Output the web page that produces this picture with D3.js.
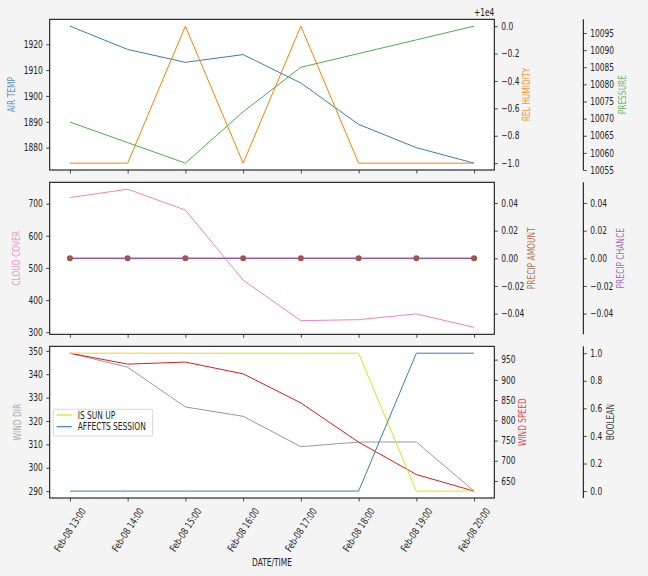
<!DOCTYPE html>
<html>
<head>
<meta charset="utf-8">
<script src="https://cdn.jsdelivr.net/npm/d3@7"></script>
<style>
html,body{margin:0;padding:0;background:#f4f4f4;}
svg{display:block;}
text{font-family:"DejaVu Sans",sans-serif;}
</style>
</head>
<body>
<script>
// ---- data ----
const times = ["2023-02-08T13:00","2023-02-08T14:00","2023-02-08T15:00","2023-02-08T16:00",
               "2023-02-08T17:00","2023-02-08T18:00","2023-02-08T19:00","2023-02-08T20:00"];
const airTemp        = [1927, 1918, 1913, 1916, 1905, 1889, 1880, 1874];
const relHumidity    = [9999, 9999, 10000, 9999, 10000, 9999, 9999, 9999];
const pressure       = [10069, 10063, 10057, 10072, 10085, 10089, 10093, 10097];
const cloudCover     = [719, 745, 680, 462, 336, 339, 357, 315];
const precipAmount   = [0, 0, 0, 0, 0, 0, 0, 0];
const precipChance   = [0, 0, 0, 0, 0, 0, 0, 0];
const windDir        = [349, 343, 326, 322, 309, 311, 311, 290];
const windSpeed      = [966, 939, 944, 915, 843, 746, 666, 625];
const isSunUp        = [1, 1, 1, 1, 1, 1, 0, 0];
const affectsSession = [0, 0, 0, 0, 0, 0, 1, 1];

const airTempTicks   = [1880, 1890, 1900, 1910, 1920];
const relHumTicks    = [9999, 9999.2, 9999.4, 9999.6, 9999.8, 10000];
const pressureTicks  = [10055, 10060, 10065, 10070, 10075, 10080, 10085, 10090, 10095];
const cloudTicks     = [300, 400, 500, 600, 700];
const precipTicks    = [-0.04, -0.02, 0, 0.02, 0.04];
const windDirTicks   = [290, 300, 310, 320, 330, 340, 350];
const windSpdTicks   = [650, 700, 750, 800, 850, 900, 950];
const boolTicks      = [0, 0.2, 0.4, 0.6, 0.8, 1.0];

// ---- layout ----
const W = 648, H = 576;
const L = 49.7, R = 494.3, X3 = 583.3;
const panels = [[19.3, 170], [182.3, 334.3], [346.3, 498]];
const SX = 0.75, FS = 10;
const C = {blue:"#377eb8", orange:"#ff7f00", green:"#4daf4a", pink:"#f781bf", brown:"#a65628",
           purple:"#984ea3", gray:"#999999", red:"#e41a1c", yellow:"#e3dc1c"};

const svg = d3.select("body").append("svg").attr("width", W).attr("height", H);
svg.append("rect").attr("width", W).attr("height", H).attr("fill", "#f4f4f4");

const parse = d3.timeParse("%Y-%m-%dT%H:%M");
const dates = times.map(parse);
const t0 = dates[0], t1 = dates[dates.length - 1];
const pad = (t1 - t0) * 0.05;
const x = d3.scaleTime().domain([new Date(+t0 - pad), new Date(+t1 + pad)]).range([L, R]);

function dom(vals) {
  let mn = d3.min(vals), mx = d3.max(vals);
  if (mn === mx) { mn -= 0.05; mx += 0.05; }
  const p = (mx - mn) * 0.05;
  return [mn - p, mx + p];
}

function fixText(g) {
  g.selectAll(".tick text").each(function () {
    const t = d3.select(this);
    const xx = +t.attr("x") || 0;
    t.attr("x", 0).attr("transform", `translate(${xx},0) scale(${SX},1)`)
     .attr("font-size", FS).attr("font-family", "DejaVu Sans").attr("fill", "#222");
  });
  g.selectAll(".tick line").attr("stroke", "#222").attr("stroke-width", 0.8);
}

function label(xp, yp, str, color) {
  svg.append("text")
    .attr("transform", `translate(${xp},${yp}) rotate(-90) scale(${SX},1)`)
    .attr("text-anchor", "middle").attr("font-size", FS)
    .attr("fill", color).attr("fill-opacity", 0.85).text(str);
}

function drawLine(y, vals, color, w) {
  svg.append("path").datum(vals)
    .attr("fill", "none").attr("stroke", color).attr("stroke-width", w || 1)
    .attr("d", d3.line().x((d, i) => x(dates[i])).y(d => y(d)));
}

function setupPanel(pi, s) {
  const [top, bot] = panels[pi];
  svg.append("rect").attr("x", L).attr("y", top).attr("width", R - L).attr("height", bot - top)
    .attr("fill", "#fff");
  const y1 = d3.scaleLinear().domain(s.d1).range([bot, top]);
  const y2 = d3.scaleLinear().domain(s.d2).range([bot, top]);
  const y3 = d3.scaleLinear().domain(s.d3).range([bot, top]);
  return {y1, y2, y3, top, bot};
}

function finishPanel(p, s, showX) {
  const {y1, y2, y3, top, bot} = p;
  svg.append("rect").attr("x", L).attr("y", top).attr("width", R - L).attr("height", bot - top)
    .attr("fill", "none").attr("stroke", "#000").attr("stroke-width", 1);
  const gl = svg.append("g").attr("transform", `translate(${L},0)`)
    .call(d3.axisLeft(y1).tickValues(s.t1).tickFormat(s.f1).tickSizeOuter(0).tickSize(3.5).tickPadding(3.5));
  gl.select(".domain").remove(); fixText(gl);
  const gr = svg.append("g").attr("transform", `translate(${R},0)`)
    .call(d3.axisRight(y2).tickValues(s.t2).tickFormat(s.f2).tickSizeOuter(0).tickSize(3.5).tickPadding(3.5));
  gr.select(".domain").remove(); fixText(gr);
  const g3 = svg.append("g").attr("transform", `translate(${X3},0)`)
    .call(d3.axisRight(y3).tickValues(s.t3).tickFormat(s.f3).tickSizeOuter(0).tickSize(3.5).tickPadding(3.5));
  g3.select(".domain").remove(); fixText(g3);
  svg.append("line").attr("x1", X3).attr("x2", X3).attr("y1", top).attr("y2", bot)
    .attr("stroke", "#000").attr("stroke-width", 1);
  const gb = svg.append("g").attr("transform", `translate(0,${bot})`)
    .call(d3.axisBottom(x).tickValues(dates).tickSize(3.5).tickSizeOuter(0)
      .tickFormat(showX ? d3.timeFormat("%b-%d %H:%M") : ""));
  gb.select(".domain").remove();
  gb.selectAll(".tick line").attr("stroke", "#222").attr("stroke-width", 0.8);
  if (showX) {
    gb.selectAll(".tick text").attr("x", 0).attr("y", 0).attr("dy", 0)
      .attr("text-anchor", "end").attr("font-size", FS).attr("fill", "#222")
      .attr("font-family", "DejaVu Sans")
      .attr("transform", `translate(16,13) rotate(-57) scale(${SX},1)`);
  }
  const cy = (top + bot) / 2;
  label(s.lx1, cy, s.l1, s.c1);
  label(s.lx2, cy, s.l2, s.c2);
  label(s.lx3, cy, s.l3, s.c3);
}

// ---- panel 1 ----
const s1 = {d1: dom(airTemp), d2: dom(relHumidity), d3: dom(pressure),
  t1: airTempTicks, t2: relHumTicks, t3: pressureTicks,
  f1: d3.format("d"), f2: d => d3.format(".1f")(Math.round((d - 10000) * 10) / 10), f3: d3.format("d"),
  l1: "AIR TEMP", l2: "REL HUMIDITY", l3: "PRESSURE", c1: C.blue, c2: C.orange, c3: C.green,
  lx1: 15.3, lx2: 530.3, lx3: 626.3};
const p1 = setupPanel(0, s1);
drawLine(p1.y1, airTemp, C.blue);
drawLine(p1.y2, relHumidity, C.orange);
drawLine(p1.y3, pressure, C.green);
finishPanel(p1, s1, false);
svg.append("text").attr("transform", `translate(${R},16) scale(${SX},1)`)
  .attr("text-anchor", "end").attr("font-size", FS).attr("fill", "#222").text("+1e4");

// ---- panel 2 ----
const s2 = {d1: dom(cloudCover), d2: dom(precipAmount), d3: dom(precipChance),
  t1: cloudTicks, t2: precipTicks, t3: precipTicks,
  f1: d3.format("d"), f2: d3.format(".2f"), f3: d3.format(".2f"),
  l1: "CLOUD COVER", l2: "PRECIP AMOUNT", l3: "PRECIP CHANCE", c1: C.pink, c2: C.brown, c3: C.purple,
  lx1: 20.3, lx2: 535.3, lx3: 624};
const p2 = setupPanel(1, s2);
drawLine(p2.y1, cloudCover, C.pink);
drawLine(p2.y2, precipAmount, C.brown);
svg.append("g").selectAll("circle").data(precipAmount).join("circle")
  .attr("cx", (d, i) => x(dates[i])).attr("cy", d => p2.y2(d)).attr("r", 3).attr("fill", C.brown);
drawLine(p2.y3, precipChance, C.purple, 1.3);
finishPanel(p2, s2, false);

// ---- panel 3 ----
const s3 = {d1: dom(windDir), d2: dom(windSpeed), d3: dom(isSunUp.concat(affectsSession)),
  t1: windDirTicks, t2: windSpdTicks, t3: boolTicks,
  f1: d3.format("d"), f2: d3.format("d"), f3: d3.format(".1f"),
  l1: "WIND DIR", l2: "WIND SPEED", l3: "BOOLEAN", c1: C.gray, c2: C.red, c3: "#222",
  lx1: 20.5, lx2: 526.3, lx3: 613.6};
const p3 = setupPanel(2, s3);
drawLine(p3.y1, windDir, C.gray);
drawLine(p3.y2, windSpeed, C.red);
drawLine(p3.y3, isSunUp, C.yellow);
drawLine(p3.y3, affectsSession, C.blue);
finishPanel(p3, s3, true);

// legend
const leg = svg.append("g");
leg.append("rect").attr("x", 53.3).attr("y", 409.3).attr("width", 99.4).attr("height", 26.7)
  .attr("rx", 2).attr("fill", "#fff").attr("fill-opacity", 0.8).attr("stroke", "#ccc").attr("stroke-width", 0.8);
[["IS SUN UP", C.yellow, 415], ["AFFECTS SESSION", C.blue, 426.7]].forEach(([t, c, yy]) => {
  leg.append("line").attr("x1", 56.7).attr("x2", 71.7).attr("y1", yy).attr("y2", yy)
    .attr("stroke", c).attr("stroke-width", 1.2);
  leg.append("text").attr("transform", `translate(77.7,${yy + 3.6}) scale(${SX},1)`)
    .attr("font-size", FS).attr("fill", "#222").text(t);
});

// x label
svg.append("text").attr("transform", `translate(${(L + R) / 2},566) scale(${SX},1)`)
  .attr("text-anchor", "middle").attr("font-size", FS).attr("fill", "#222").text("DATE/TIME");
</script>
</body>
</html>
